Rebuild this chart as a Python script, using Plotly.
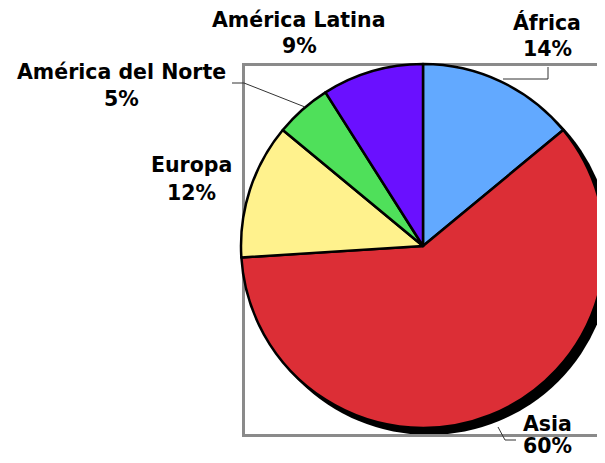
import plotly.graph_objects as go

W, H = 597, 447
OFF = 8  # margen del body de la pagina

# datos
regiones = ["África", "Asia", "Europa", "América del Norte", "América Latina"]
porcentajes = [14, 60, 12, 5, 9]
colores = ["#62A9FF", "#DC2E36", "#FFF28D", "#4FE05A", "#6A10FF"]

# posiciones de las etiquetas (px en pantalla): (x, y linea 1, y linea 2)
pos_etiquetas = [(547, 22, 49), (547, 424, 446), (191, 165, 193), (121, 72, 99), (299, 20, 46)]

# lineas guia (px en pantalla)
guias = [
    [(548, 67), (548, 79), (503, 79)],
    [(498, 427), (505, 440), (516, 440)],
    [(232, 83), (244, 83), (305, 107)],
]

CX, CY, R = 423, 246, 182
SOMBRA = 6


def px(x):
    return (x - OFF) / W


def py(y):
    return 1 - (y - OFF) / H


fig = go.Figure()
fig.add_trace(
    go.Pie(
        labels=regiones, values=porcentajes, sort=False, direction="clockwise",
        marker=dict(colors=colores, line=dict(color="black", width=2.5)),
        textinfo="none", hoverinfo="label+percent", showlegend=False,
        domain=dict(x=[px(CX - R), min(1, px(CX + R))], y=[py(CY + R), py(CY - R)]),
    )
)

shapes = [
    # sombra
    dict(type="circle", xref="paper", yref="paper", layer="below",
         x0=px(CX + SOMBRA - R - 1), x1=px(CX + SOMBRA + R + 1),
         y0=py(CY + SOMBRA + R + 1), y1=py(CY + SOMBRA - R - 1),
         fillcolor="black", line=dict(width=0)),
    # marco del area de trazado
    dict(type="rect", xref="paper", yref="paper", layer="below",
         x0=px(243.5), x1=px(640), y0=py(435.5), y1=py(64.5),
         line=dict(color="#8a8a8a", width=3)),
]
for g in guias:
    path = "M " + " L ".join(f"{px(x)},{py(y)}" for x, y in g)
    shapes.append(dict(type="path", xref="paper", yref="paper", path=path,
                       line=dict(color="#333333", width=1)))

fuente = dict(family="DejaVu Sans", size=20.5, color="black")
annotations = []
for reg, pct, (x, y1, y2) in zip(regiones, porcentajes, pos_etiquetas):
    annotations.append(dict(text=f"<b>{reg}</b>", x=px(x), y=py(y1), xref="paper", yref="paper",
                            showarrow=False, font=fuente, xanchor="center", yanchor="middle"))
    annotations.append(dict(text=f"<b>{pct}%</b>", x=px(x), y=py(y2), xref="paper", yref="paper",
                            showarrow=False, font=fuente, xanchor="center", yanchor="middle"))

fig.update_layout(
    width=W, height=H, margin=dict(l=0, r=0, t=0, b=0),
    paper_bgcolor="white", plot_bgcolor="white",
    shapes=shapes, annotations=annotations,
)

fig.write_html("out.html")
